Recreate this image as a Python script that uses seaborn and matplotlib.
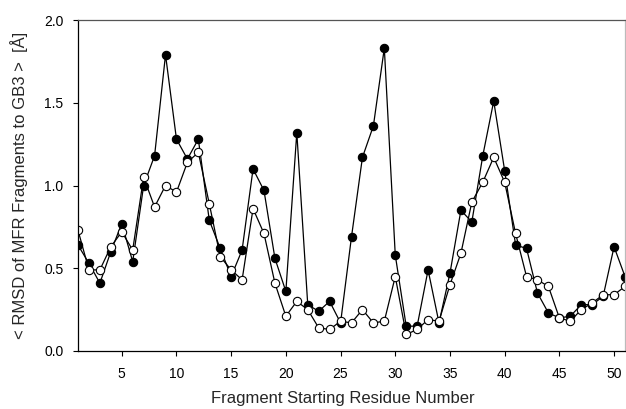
import matplotlib
matplotlib.use("Agg")
import matplotlib.pyplot as plt
import seaborn as sns
import pandas as pd

residue = list(range(1, 52))
filled_vals = [0.64, 0.53, 0.41, 0.60, 0.77, 0.54, 1.00, 1.18, 1.79, 1.28,
               1.16, 1.28, 0.79, 0.62, 0.45, 0.61, 1.10, 0.97, 0.56, 0.36,
               1.32, 0.28, 0.24, 0.30, 0.17, 0.69, 1.17, 1.36, 1.83, 0.58,
               0.15, 0.15, 0.49, 0.17, 0.47, 0.85, 0.78, 1.18, 1.51, 1.09,
               0.64, 0.62, 0.35, 0.23, 0.20, 0.21, 0.28, 0.28, 0.33, 0.63,
               0.45]
open_vals = [0.73, 0.49, 0.49, 0.63, 0.72, 0.61, 1.05, 0.87, 1.00, 0.96,
             1.14, 1.20, 0.89, 0.57, 0.49, 0.43, 0.86, 0.71, 0.41, 0.21,
             0.30, 0.25, 0.14, 0.13, 0.18, 0.17, 0.25, 0.17, 0.18, 0.45,
             0.10, 0.13, 0.19, 0.18, 0.40, 0.59, 0.90, 1.02, 1.17, 1.02,
             0.71, 0.45, 0.43, 0.39, 0.20, 0.18, 0.25, 0.29, 0.34, 0.34,
             0.39]
x_ticks = [5, 10, 15, 20, 25, 30, 35, 40, 45, 50]
y_ticks = [0.0, 0.5, 1.0, 1.5, 2.0]

df = pd.DataFrame({"residue": residue, "filled": filled_vals, "open": open_vals})

sns.set_style("ticks")
plt.rcParams["font.family"] = ["Liberation Sans", "DejaVu Sans"]

fig = plt.figure(figsize=(6.26, 4.09), dpi=100)
ax = fig.add_axes([78/626, 58/409, 547/626, 331/409])

sns.lineplot(data=df, x="residue", y="filled", ax=ax, color="black", lw=0.9,
             marker="o", markersize=6, markerfacecolor="black",
             markeredgecolor="black", markeredgewidth=0.8)
sns.lineplot(data=df, x="residue", y="open", ax=ax, color="black", lw=0.9,
             marker="o", markersize=6, markerfacecolor="white",
             markeredgecolor="black", markeredgewidth=0.8)

ax.set_xlim(1, 51)
ax.set_ylim(0, 2.0)
ax.set_xticks(x_ticks)
ax.set_yticks(y_ticks)
ax.set_yticklabels([f"{v:.1f}" for v in y_ticks])
ax.tick_params(axis="both", direction="out", length=3.6, width=0.8,
               labelsize=10, colors="black")
ax.tick_params(axis="y", pad=7)
ax.tick_params(axis="x", pad=8)
ax.set_xlabel("Fragment Starting Residue Number", fontsize=12)
ax.set_ylabel("< RMSD of MFR Fragments to GB3 >  [Å]", fontsize=12)
ax.xaxis.set_label_coords((343 - 78) / 547, -0.12)
ax.yaxis.set_label_coords((28 - 78) / 547, 0.5)
for s in ["left", "bottom"]:
    ax.spines[s].set_color("black")
    ax.spines[s].set_linewidth(0.9)
ax.spines["top"].set_color("#555555")
ax.spines["top"].set_linewidth(0.9)
ax.spines["right"].set_color("#bbbbbb")
ax.spines["right"].set_linewidth(0.9)

fig.savefig("out.png", dpi=100)
